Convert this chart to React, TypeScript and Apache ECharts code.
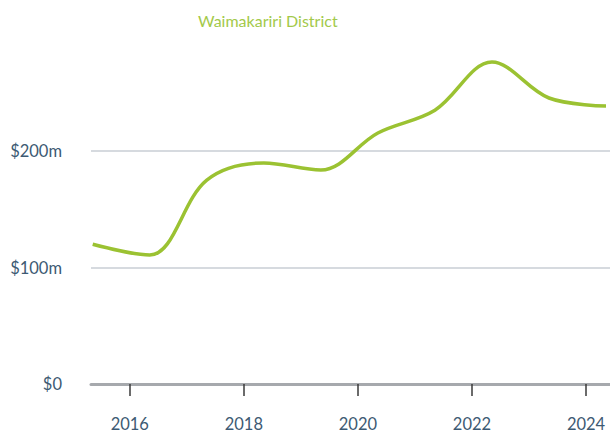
import React, { useEffect, useRef } from "react";
import * as echarts from "echarts";

const title = "Waimakariri District";
const years = [2015.35, 2016.35, 2017.35, 2018.35, 2019.35, 2020.35, 2021.35, 2022.35, 2023.35, 2024.35];
const values = [120, 110.7, 175, 189.7, 183.7, 215.5, 235, 276.4, 245.5, 238.6];
const xTicks = [2016, 2018, 2020, 2022, 2024];

export default function App() {
  const ref = useRef<HTMLDivElement>(null);
  useEffect(() => {
    const chart = echarts.init(ref.current!, null, { renderer: "svg" });
    chart.setOption({
      animation: false,
      title: {
        text: title,
        left: 193,
        top: 7,
        textStyle: { color: "#a3c94a", fontFamily: "Lato", fontSize: 16, fontWeight: "normal" },
      },
      grid: { left: 91, right: 0, top: 34.5, bottom: 51 },
      xAxis: {
        type: "value",
        min: 2015.32,
        max: 2024.42,
        axisLine: { show: true, onZero: false, lineStyle: { color: "#a6a9ad", width: 3 } },
        axisTick: {
          show: true,
          customValues: xTicks,
          length: 12,
          lineStyle: { color: "#3a3a3a", width: 1.5 },
        },
        axisLabel: {
          customValues: xTicks,
          margin: 31,
          color: "#3d5a73",
          fontFamily: "Lato",
          fontSize: 16.5,
          formatter: (v: number) => String(v),
        },
        splitLine: { show: false },
      },
      yAxis: {
        type: "value",
        min: 0,
        max: 300,
        interval: 100,
        axisLine: { show: false },
        axisTick: { show: false },
        axisLabel: {
          margin: 29,
          color: "#3d5a73",
          fontFamily: "Lato",
          fontSize: 16.5,
          formatter: (v: number) => (v >= 300 ? "" : v === 0 ? "$0" : "$" + v + "m"),
        },
        splitLine: {
          show: true,
          showMinLine: false,
          showMaxLine: false,
          lineStyle: { color: "#c9ced4", width: 1.5 },
        },
      },
      series: [
        {
          type: "line",
          data: years.map((y, i) => [y, values[i]]),
          smooth: 0.35,
          showSymbol: false,
          lineStyle: { color: "#9bc232", width: 3.5 },
          clip: true,
        },
      ],
    });
    return () => chart.dispose();
  }, []);
  return <div ref={ref} style={{ width: 610, height: 435, position: "absolute", left: 0, top: 0 }} />;
}
